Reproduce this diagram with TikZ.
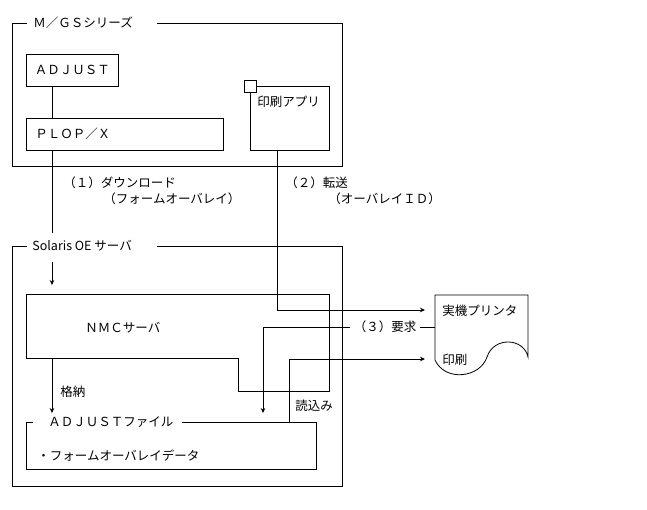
\documentclass[tikz,border=0pt]{standalone}
\usepackage{fontspec}
\setmainfont{Noto Sans CJK JP}
\usetikzlibrary{arrows.meta,positioning}

\begin{document}
\begin{tikzpicture}[x=1bp,y=-1bp,line width=0.8bp,
  font=\fontsize{12.5bp}{15bp}\selectfont,
  box/.style={draw,inner sep=0pt},
  txt/.style={anchor=west,inner sep=0pt},
  arr/.style={-{Stealth[length=5bp,width=4.5bp]}}]
\useasboundingbox (0,0) rectangle (647,510);

% M/GS side
\draw (27,23) -| (12,166) -| (342,23) -- (157,23);
\node (MGS) at (33,23)[txt] {Ｍ／ＧＳシリーズ};
\node (ADJ) at (26,54)[box,anchor=north west,minimum width=92bp,minimum height=32bp] {ＡＤＪＵＳＴ};
\node (PLOP) at (26,118)[box,anchor=north west,minimum width=197bp,minimum height=32bp] {};
\node (PLOPt) at (35,134)[txt] {ＰＬＯＰ／Ｘ};
\node (APP) at (250,86)[box,anchor=north west,minimum width=79bp,minimum height=64bp] {};
\node (SQ) at (APP.north west)[box,fill=white,minimum size=12bp] {};
\node (APPt) at (257,102)[txt] {印刷アプリ};
\coordinate (XA) at (52,0);
\coordinate (XB) at (277,0);
\draw (ADJ.south -| XA) -- (PLOP.north -| XA);

% labels between the systems
\node (L1) at (63,183)[txt] {（１）ダウンロード};
\node (L1b) at (103,199)[txt] {（フォームオーバレイ）};
\node (L2) at (285,183)[txt] {（２）転送};
\node (L2b) at (328,199)[txt] {（オーバレイＩＤ）};

% Solaris side
\draw (27,246) -| (12,486) -| (342,246) -- (157,246);
\node (SOL) at (32,246)[txt] {Solaris OE サーバ};
\draw (26,294) -- (329,294) -- (329,391) -- (238,391) -- (238,358) -- (26,358) -- cycle;
\node (NMC) at (85,328)[txt] {ＮＭＣサーバ};
\draw (33,422) -| (26,469) -| (316,422) -- (182,422);
\node (AF) at (48,422)[txt] {ＡＤＪＵＳＴファイル};
\node (AFd) at (37,456)[txt] {・フォームオーバレイデータ};
\node (ST) at (60,392)[txt] {格納};
\node (RD) at (295,406)[txt] {読込み};

% printer
\draw (435,360) -- (435,295) -- (528,295) -- (528,357)
  .. controls (524,338) and (494,336) .. (487,357)
  .. controls (480,378) and (445,382) .. (435,360);
\node (PRT) at (442,311)[txt] {実機プリンタ};
\node (PRN) at (442,360)[txt] {印刷};

\coordinate (D1) at (52,233);
\coordinate (D2) at (52,262);
\coordinate (D3) at (52,285);
\coordinate (S1) at (52,358);
\coordinate (S2) at (52,413);
\coordinate (IN1) at (425,310);
\coordinate (IN2) at (425,359);
\coordinate (OUT3) at (435,327);
\coordinate (R3) at (263,413);
\coordinate (R1) at (289,422);

\draw (PLOP.south -| XA) -- (D1);
\draw [arr] (D2) -- (D3);
\draw [arr] (S1) -- (S2);
\draw [arr] (APP.south -| XB) |- (IN1);
\draw [arr] (OUT3) -| (R3);
\draw [arr] (R1) |- (IN2);
\node (REQ) at (385,327)[fill=white,inner xsep=4bp,inner ysep=1bp] {（３）要求};
\end{tikzpicture}
\end{document}
